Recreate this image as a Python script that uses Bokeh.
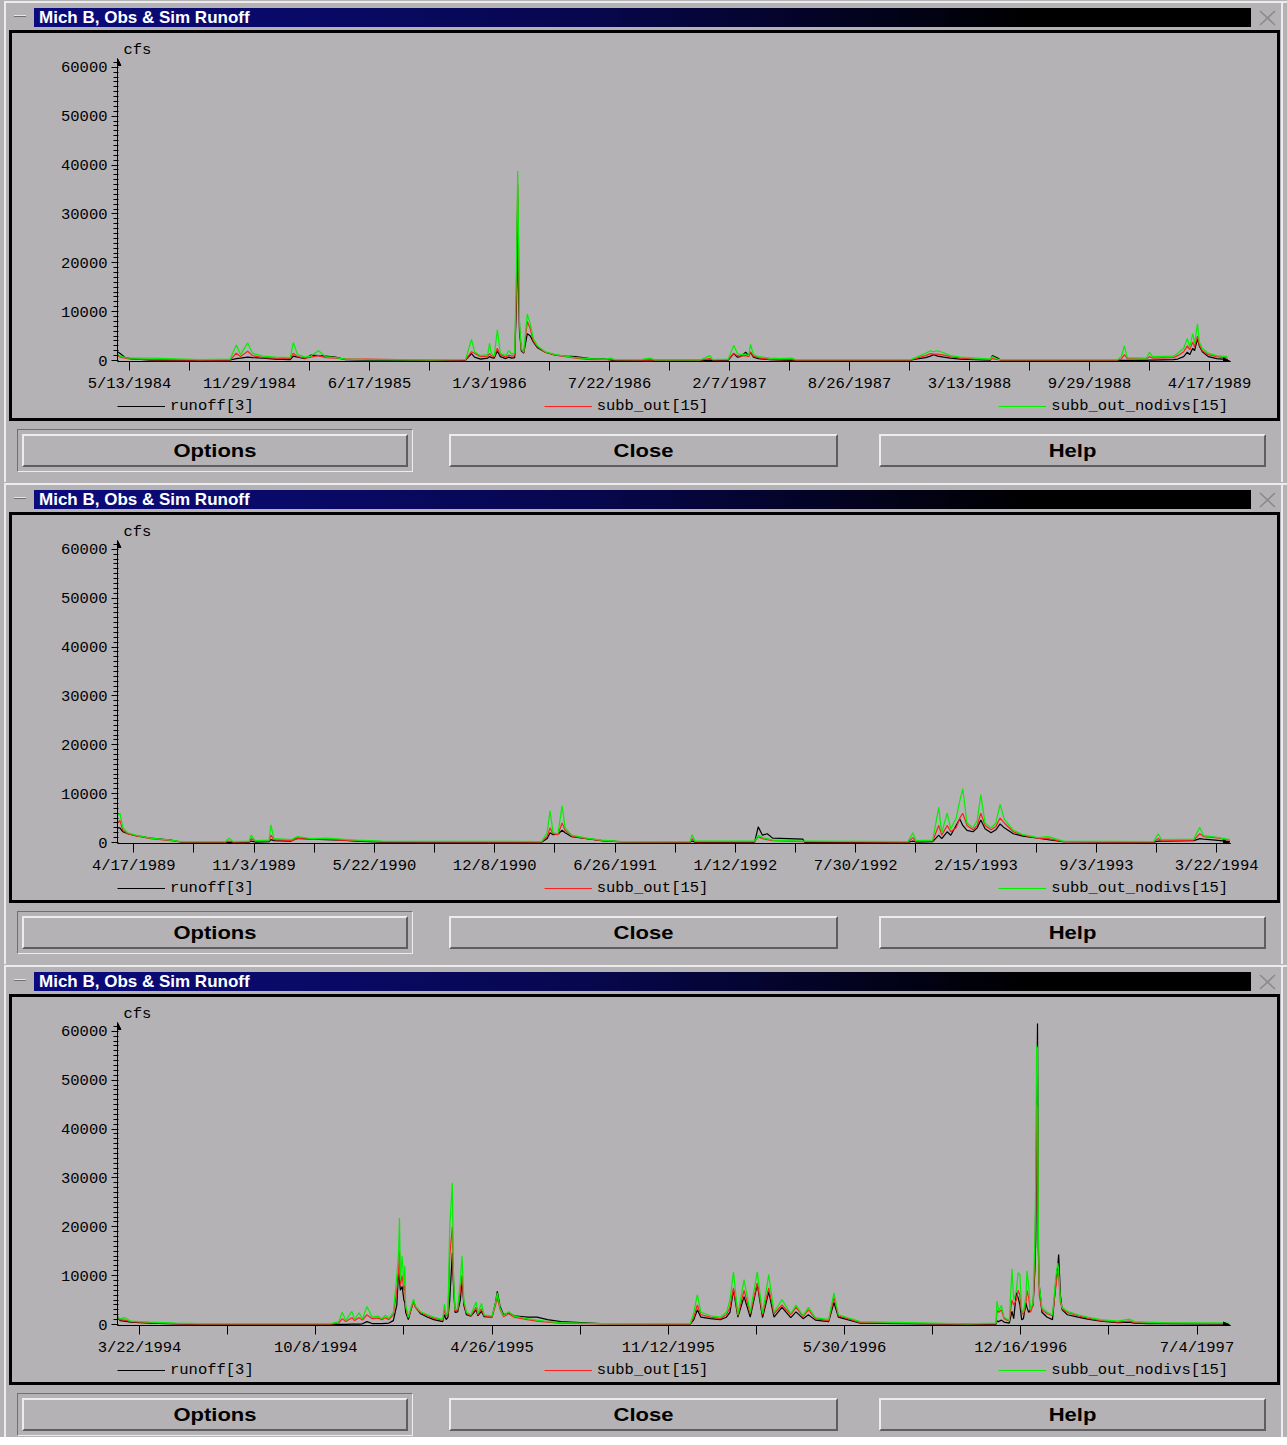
import html
import pandas as pd
from bokeh.plotting import figure
from bokeh.models import (Range1d, FixedTicker, CustomJSTickFormatter, SingleIntervalTicker,
                          NumeralTickFormatter, Legend, LegendItem, Arrow, NormalHead, Div)
from bokeh.layouts import column, row
from bokeh.embed import file_html
from bokeh.resources import INLINE

# ---------------------------------------------------------------- texts
WINDOW_TITLE = "Mich B, Obs & Sim Runoff"
Y_UNITS = "cfs"
SERIES_NAMES = ["runoff[3]", "subb_out[15]", "subb_out_nodivs[15]"]
BUTTONS = ["Options", "Close", "Help"]

# ---------------------------------------------------------------- window 1
W1_TICK_LABELS = ["5/13/1984", "11/29/1984", "6/17/1985", "1/3/1986", "7/22/1986",
                  "2/7/1987", "8/26/1987", "3/13/1988", "9/29/1988", "4/17/1989"]
W1_XRANGE = ("1984-04-23", "1989-05-22")
W1_ANCHOR = "1984-05-13"          # day 0 of W1_DAY
W1_DAY = [-20, -15, -7, 2, 35, 118, 168, 178, 185, 197,
          205, 222, 243, 268, 273, 280, 293, 302, 315, 327,
          343, 360, 393, 502, 560, 570, 575, 585, 597, 600,
          603, 608, 613, 618, 627, 632, 637, 642, 645, 647,
          648, 650, 653, 657, 663, 668, 673, 680, 693, 710,
          727, 743, 768, 793, 802, 808, 852, 868, 875, 952,
          967, 972, 998, 1007, 1013, 1018, 1027, 1032, 1035, 1040,
          1048, 1068, 1085, 1103, 1110, 1302, 1310, 1327, 1335, 1340,
          1347, 1357, 1368, 1385, 1410, 1435, 1438, 1447, 1452, 1647,
          1653, 1658, 1663, 1695, 1700, 1705, 1740, 1747, 1757, 1763,
          1767, 1772, 1775, 1780, 1783, 1788, 1798, 1812, 1830]
W1_NODIV = [1200, 900, 600, 500, 500, 200, 300, 3200, 1200, 3600,
            1500, 900, 700, 600, 3700, 1200, 700, 900, 2000, 800,
            600, 300, 200, 150, 250, 4300, 1800, 1000, 1200, 3500,
            1500, 900, 6300, 1500, 1000, 2000, 1300, 1500, 20000, 38800,
            30000, 8000, 2500, 1800, 9500, 7500, 4500, 3000, 1800, 1200,
            900, 600, 400, 300, 500, 200, 200, 500, 150, 150,
            1000, 200, 300, 3100, 1500, 1200, 1300, 1000, 3300, 1200,
            800, 500, 400, 500, 200, 200, 600, 1500, 2000, 1800,
            2000, 1600, 1000, 700, 500, 300, 800, 300, 200, 200,
            800, 3000, 600, 500, 1700, 800, 900, 1500, 2500, 4500,
            2800, 5500, 3500, 7500, 3800, 2500, 1500, 1000, 800]
W1_SUB = [1000, 700, 500, 300, 200, 100, 150, 1500, 800, 1900,
          1000, 600, 500, 400, 1500, 800, 500, 700, 1000, 600,
          500, 300, 300, 100, 150, 1800, 1500, 800, 900, 1400,
          1000, 800, 2500, 1200, 700, 1100, 900, 1000, 15000, 36000,
          28000, 7000, 2200, 1600, 8000, 6500, 4000, 2800, 1700, 1100,
          800, 500, 200, 200, 200, 150, 100, 150, 100, 100,
          400, 150, 200, 1500, 1000, 900, 1000, 800, 1800, 900,
          600, 200, 200, 200, 100, 100, 400, 1000, 1400, 1300,
          1300, 1100, 800, 500, 300, 200, 400, 200, 100, 100,
          300, 1200, 400, 300, 800, 500, 600, 1000, 1800, 3000,
          2200, 3800, 2800, 5000, 3200, 2000, 1200, 800, 500]
W1_OBS = [1800, 1400, 600, 400, 100, 50, 100, 400, 500, 700,
          600, 500, 300, 200, 900, 700, 400, 1100, 1000, 900,
          700, 200, 100, 50, 100, 1400, 700, 300, 500, 800,
          600, 500, 2000, 800, 400, 700, 500, 600, 12000, 33000,
          16000, 6000, 2000, 1500, 5500, 5000, 3800, 2600, 1700, 1100,
          900, 800, 400, 300, 100, 50, 50, 50, 50, 50,
          100, 50, 100, 1400, 700, 800, 1700, 900, 1700, 700,
          400, 200, 100, 50, 50, 50, 300, 600, 900, 1200,
          900, 700, 500, 300, 200, 100, 1000, 500, 50, 50,
          50, 50, 50, 50, 100, 100, 200, 300, 800, 1700,
          1200, 2500, 2000, 4500, 3000, 1800, 800, 400, 200]

# ---------------------------------------------------------------- window 2
W2_TICK_LABELS = ["4/17/1989", "11/3/1989", "5/22/1990", "12/8/1990", "6/26/1991",
                  "1/12/1992", "7/30/1992", "2/15/1993", "9/3/1993", "3/22/1994"]
W2_XRANGE = ("1989-03-21", "1994-04-14")
W2_ANCHOR = "1989-04-17"
W2_DAY = [-27, -23, -18, -10, 3, 28, 62, 78, 153, 158,
          165, 192, 195, 202, 225, 228, 233, 262, 272, 295,
          320, 345, 370, 412, 678, 687, 692, 697, 705, 712,
          717, 728, 753, 778, 812, 925, 928, 933, 1032, 1038,
          1045, 1053, 1062, 1112, 1115, 1287, 1295, 1300, 1328, 1338,
          1343, 1352, 1358, 1367, 1373, 1378, 1385, 1395, 1402, 1408,
          1415, 1425, 1433, 1440, 1447, 1462, 1478, 1503, 1520, 1545,
          1695, 1703, 1708, 1762, 1772, 1778, 1798, 1822]
W2_NODIV = [5500, 6000, 3000, 2000, 1500, 900, 500, 200, 200, 900,
            200, 300, 1500, 400, 500, 3600, 800, 600, 1200, 800,
            900, 700, 500, 300, 200, 2000, 6500, 2000, 1800, 7500,
            3000, 1500, 900, 500, 200, 200, 1600, 300, 300, 1500,
            1000, 800, 500, 300, 300, 200, 2000, 400, 500, 7200,
            2000, 6000, 2800, 5000, 8500, 11000, 4000, 3000, 4500, 9800,
            4000, 3000, 4000, 7800, 4800, 2500, 1600, 1000, 1200, 300,
            200, 1800, 600, 700, 3100, 1400, 1100, 600]
W2_SUB = [4000, 4500, 2500, 1800, 1400, 800, 400, 150, 100, 300,
          100, 200, 800, 300, 300, 1500, 600, 400, 800, 700,
          700, 500, 400, 200, 100, 1200, 3000, 1800, 1600, 4000,
          2500, 1300, 800, 400, 150, 100, 800, 150, 200, 1200,
          800, 600, 400, 200, 200, 100, 1000, 200, 300, 3500,
          1500, 3500, 2200, 3000, 5000, 6000, 3500, 2600, 3500, 6000,
          3500, 2600, 3300, 5000, 4000, 2200, 1500, 900, 800, 200,
          100, 800, 400, 500, 1800, 1200, 1000, 500]
W2_OBS = [3000, 3000, 2200, 1800, 1400, 900, 500, 100, 50, 50,
          50, 100, 300, 100, 200, 600, 400, 300, 900, 700,
          600, 500, 300, 100, 50, 800, 2000, 1600, 1700, 2500,
          2000, 1200, 800, 400, 150, 50, 300, 50, 100, 3200,
          1500, 1800, 900, 700, 50, 50, 300, 100, 200, 1500,
          800, 2200, 1500, 3500, 4800, 3500, 2500, 2200, 3000, 4600,
          2800, 2000, 2600, 3800, 3000, 1800, 1300, 900, 600, 200,
          50, 300, 300, 400, 800, 700, 500, 200]

# ---------------------------------------------------------------- window 3
W3_TICK_LABELS = ["3/22/1994", "10/8/1994", "4/26/1995", "11/12/1995",
                  "5/30/1996", "12/16/1996", "7/4/1997"]
W3_XRANGE = ("1994-02-25", "1997-08-11")
W3_ANCHOR = "1994-03-22"
W3_DAY = [-25, -22, -17, -10, 12, 41, 69, 217, 226, 230,
          234, 241, 244, 249, 253, 258, 264, 271, 275, 279,
          283, 288, 292, 294, 295, 296, 298, 300, 301, 302,
          305, 308, 311, 313, 319, 327, 334, 344, 346, 348,
          350, 352, 355, 356, 358, 361, 364, 366, 368, 371,
          376, 382, 384, 388, 391, 400, 404, 406, 409, 413,
          419, 425, 440, 451, 463, 478, 523, 625, 629, 633,
          637, 648, 659, 666, 670, 674, 679, 686, 693, 701,
          707, 714, 720, 729, 739, 745, 753, 759, 767, 782,
          788, 793, 818, 940, 972, 973, 975, 978, 981, 987,
          990, 992, 995, 997, 999, 1001, 1003, 1006, 1007, 1009,
          1011, 1014, 1016, 1017, 1018, 1019, 1020, 1021, 1024, 1030,
          1036, 1038, 1040, 1042, 1043, 1045, 1047, 1053, 1065, 1076,
          1091, 1110, 1123, 1129, 1144, 1159, 1236]
W3_NODIV = [1500, 1200, 1400, 700, 500, 300, 200, 200, 600, 2500,
            800, 2700, 1000, 2400, 1100, 3700, 1500, 1700, 1200, 1900,
            1300, 2500, 10000, 15000, 21800, 9000, 14000, 8000, 12000, 4000,
            1500, 3500, 5200, 3800, 2600, 2000, 1500, 1000, 4200, 2000,
            2500, 20000, 29000, 12000, 3000, 3200, 9000, 14000, 5000, 2500,
            2000, 4600, 2300, 4300, 2000, 1700, 4500, 6500, 3500, 1800,
            2600, 1700, 1200, 900, 600, 400, 200, 200, 2500, 6100,
            2500, 1800, 1500, 2500, 5000, 10800, 2000, 9200, 2500, 10800,
            2200, 10200, 2500, 5100, 2200, 4000, 1800, 3500, 1400, 1000,
            6500, 2000, 600, 150, 300, 4800, 2800, 3900, 1500, 800,
            11400, 5000, 7000, 10600, 10200, 3000, 2500, 6000, 11000, 8000,
            3000, 4500, 17300, 30000, 57000, 56500, 20000, 8000, 3500, 2500,
            2000, 6000, 10000, 12600, 11000, 5000, 3500, 2700, 2000, 1500,
            1000, 700, 1100, 600, 500, 400, 300]
W3_SUB = [1200, 1000, 900, 600, 400, 200, 100, 100, 300, 1200,
          600, 1400, 800, 1400, 900, 2000, 1200, 1300, 1000, 1400,
          1000, 2000, 7000, 11000, 15000, 8000, 10000, 7000, 8000, 3500,
          1300, 3000, 4800, 3500, 2400, 1800, 1300, 900, 3000, 1800,
          2000, 14000, 20000, 10000, 2800, 3000, 7000, 10000, 4500, 2300,
          1800, 3500, 2000, 3200, 1800, 1500, 4000, 5500, 3200, 1600,
          2200, 1500, 1000, 700, 500, 300, 150, 100, 1500, 4000,
          2000, 1500, 1200, 2000, 3500, 7500, 1800, 7000, 2200, 8500,
          2000, 7500, 2200, 4000, 2000, 3500, 1600, 3000, 1200, 800,
          5500, 1800, 400, 100, 200, 2900, 2500, 3000, 1200, 700,
          5000, 4000, 5000, 7000, 6000, 2500, 2000, 4500, 7000, 5500,
          2500, 4000, 13000, 25000, 45000, 44000, 16000, 6000, 3000, 2200,
          1800, 5000, 8000, 11000, 10000, 4500, 3200, 2500, 1800, 1300,
          800, 500, 700, 400, 300, 300, 200]
W3_OBS = [1600, 800, 700, 500, 300, 150, 50, 50, 50, 50,
          50, 100, 100, 100, 150, 600, 200, 200, 200, 250,
          300, 800, 4000, 11200, 9000, 7000, 7800, 5000, 4500, 2500,
          1000, 3000, 4700, 3600, 2200, 1500, 1000, 600, 2000, 1000,
          1500, 5000, 14700, 9000, 2500, 2600, 5000, 9200, 4000, 2000,
          1700, 3000, 1800, 2700, 1600, 1500, 4500, 6800, 3800, 2000,
          2400, 1800, 1500, 1500, 1000, 600, 200, 100, 1000, 3000,
          1500, 1200, 1000, 1500, 2500, 7100, 1500, 5700, 1500, 8200,
          1400, 6700, 1500, 3500, 1400, 2600, 1200, 2000, 900, 600,
          4500, 1500, 300, 50, 100, 700, 600, 900, 500, 300,
          2700, 1200, 6500, 5500, 4000, 1000, 1200, 4400, 3500, 2500,
          3000, 4000, 11000, 17500, 41000, 61600, 15000, 8000, 2500, 1500,
          1000, 5000, 9000, 12000, 14300, 6000, 3000, 2000, 1500, 1100,
          700, 400, 500, 300, 200, 200, 100]

Y_RANGE = (-200, 61800)

# ---------------------------------------------------------------- style
BG = "#b4b2b4"
LIGHT = "#ececec"
DARK = "#5e5e5e"
MONO = "Liberation Mono"
FS = "15.5px"
SANS = "'Liberation Sans', Arial, sans-serif"
COLORS = ["#000000", "#ff2020", "#00f000"]


def ms(t):
    return pd.Timestamp(t).value / 1e6


def make_plot(xr, tick_labels, anchor, day, obs, sub, nodiv):
    for arr in (obs, sub, nodiv):
        if len(arr) != len(day):
            raise ValueError("length mismatch")
    x = pd.Timestamp(anchor) + pd.to_timedelta(day, unit="D")
    p = figure(width=1265, height=364, x_axis_type="datetime",
               x_range=Range1d(ms(xr[0]), ms(xr[1])), y_range=Range1d(*Y_RANGE),
               output_backend="svg", toolbar_location=None,
               min_border_left=105, min_border_right=47, min_border_top=25, min_border_bottom=36,
               background_fill_color=BG, border_fill_color=BG,
               outline_line_color=BG, outline_line_width=2)
    p.grid.visible = False

    r_obs = p.line(x, obs, line_color=COLORS[0], line_width=1.2)
    r_sub = p.line(x, sub, line_color=COLORS[1], line_width=1.2)
    r_nod = p.line(x, nodiv, line_color=COLORS[2], line_width=1.2)

    ticks = [pd.to_datetime(s, format="%m/%d/%Y") for s in tick_labels]
    minor = [a + (b - a) / 2 for a, b in zip(ticks[:-1], ticks[1:])]
    xa = p.xaxis[0]
    xa.ticker = FixedTicker(ticks=[ms(t) for t in ticks], minor_ticks=[ms(t) for t in minor])
    xa.formatter = CustomJSTickFormatter(code="""
        const d = new Date(tick);
        return (d.getUTCMonth() + 1) + "/" + d.getUTCDate() + "/" + d.getUTCFullYear();
    """)
    ya = p.yaxis[0]
    ya.ticker = SingleIntervalTicker(interval=10000, num_minor_ticks=10)
    ya.formatter = NumeralTickFormatter(format="0")
    for ax in (xa, ya):
        ax.axis_line_color = "black"
        ax.major_tick_line_color = "black"
        ax.minor_tick_line_color = "black"
        ax.major_label_text_font = MONO
        ax.major_label_text_font_size = FS
        ax.major_label_text_color = "black"
    xa.major_tick_out = 9
    xa.major_tick_in = 0
    xa.minor_tick_out = 9
    xa.minor_tick_in = 0
    xa.major_label_standoff = 4
    ya.major_tick_out = 6
    ya.major_tick_in = 0
    ya.minor_tick_out = 4
    ya.minor_tick_in = 1
    ya.major_label_standoff = 4

    p.title.text = Y_UNITS
    p.title.align = "left"
    p.title.offset = 6
    p.title.text_font = MONO
    p.title.text_font_size = FS
    p.title.text_font_style = "normal"
    p.title.text_color = "black"
    p.title.standoff = 0

    x0, x1 = ms(xr[0]), ms(xr[1])
    span = x1 - x0
    p.add_layout(Arrow(end=NormalHead(size=7, line_color="black", fill_color="black"),
                       x_start=x1 - span * 0.01, x_end=x1, y_start=Y_RANGE[0], y_end=Y_RANGE[0],
                       line_color="black"))
    p.add_layout(Arrow(end=NormalHead(size=7, line_color="black", fill_color="black"),
                       x_start=x0, x_end=x0, y_start=Y_RANGE[1] - 1500, y_end=Y_RANGE[1],
                       line_color="black"))
    return p


def legend_strip():
    # strip under the plot carrying the series key; its key lines lie outside its own range
    lf = figure(width=1265, height=21, output_backend="svg", toolbar_location=None,
                x_range=Range1d(0, 1), y_range=Range1d(0, 1), min_border=0,
                x_axis_location=None, y_axis_location=None,
                outline_line_color=BG, outline_line_width=2,
                background_fill_color=BG, border_fill_color=BG)
    lf.grid.visible = False
    rends = [lf.line(x=[0, 1], y=[5, 5], line_color=c, line_width=1.2) for c in COLORS]
    leg = Legend(items=[LegendItem(label=n, renderers=[r]) for n, r in zip(SERIES_NAMES, rends)],
                 orientation="horizontal", nrows=1, location=(0, 3), spacing=290,
                 glyph_width=48, glyph_height=16, label_height=16, label_standoff=5,
                 padding=0, margin=0, border_line_alpha=0, background_fill_alpha=0,
                 label_text_font=MONO, label_text_font_size=FS, label_text_color="black")
    lf.add_layout(leg, "center")
    return lf


def box(w, h, inner=""):
    return Div(text=f'<div style="position:relative;width:{w}px;height:{h}px;'
                    f'background:{BG};overflow:hidden">{inner}</div>',
               width=w, height=h, margin=0, styles={"background-color": BG})


def title_row():
    h = 30
    inner = (
        f'<div style="position:absolute;left:4px;top:1px;width:1283px;height:2px;background:{LIGHT}"></div>'
        f'<div style="position:absolute;left:4px;top:1px;width:2px;height:{h}px;background:{LIGHT}"></div>'
        f'<div style="position:absolute;left:1281px;top:1px;width:2px;height:{h}px;background:{LIGHT}"></div>'
        f'<div style="position:absolute;left:14px;top:15px;width:12px;height:2px;background:#e6e6e6;'
        f'border-bottom:1px solid #707070"></div>'
        f'<div style="position:absolute;left:34px;top:8px;width:1217px;height:19px;'
        f'background:linear-gradient(to right,#0b0b7e 0%,#07074f 45%,#000 82%)"></div>'
        f'<div style="position:absolute;left:39px;top:8px;height:19px;line-height:19px;color:#fff;'
        f'font-family:{SANS};font-weight:bold;font-size:17px;white-space:nowrap">'
        f'{html.escape(WINDOW_TITLE)}</div>'
        f'<svg style="position:absolute;left:1259px;top:10px" width="17" height="16">'
        f'<path d="M1 1 L16 15 M16 1 L1 15" stroke="#8a8a8a" stroke-width="1.6" fill="none"/></svg>'
    )
    return box(1287, h, inner)


def button_row(h):
    specs = [(22, 386), (449, 389), (879, 387)]
    inner = (
        f'<div style="position:absolute;left:4px;top:0;width:2px;height:{h}px;background:{LIGHT}"></div>'
        f'<div style="position:absolute;left:1281px;top:0;width:2px;height:{h}px;background:{LIGHT}"></div>'
        f'<div style="position:absolute;left:17px;top:8px;width:396px;height:43px;box-sizing:border-box;'
        f'border:1px solid;border-color:#707070 {LIGHT} {LIGHT} #707070"></div>'
    )
    for (x, w), label in zip(specs, BUTTONS):
        inner += (
            f'<div style="position:absolute;left:{x}px;top:13px;width:{w}px;height:33px;box-sizing:border-box;'
            f'border:2px solid;border-color:{LIGHT} {DARK} {DARK} {LIGHT};font-family:{SANS};font-weight:bold;'
            f'font-size:22px;line-height:29px;text-align:center;color:#000">'
            f'<span style="display:inline-block;transform:scale(1,0.86)">{html.escape(label)}</span></div>'
        )
    return box(1287, h, inner)


def black(w, h):
    return Div(text="", width=w, height=h, margin=0,
               styles={"background-color": "#000", "overflow": "hidden"})


def window(p, btn_h):
    lpad = box(9, 391, f'<div style="position:absolute;left:4px;top:0;width:2px;height:391px;background:{LIGHT}"></div>')
    rpad = box(7, 391, f'<div style="position:absolute;left:1px;top:0;width:2px;height:391px;background:{LIGHT}"></div>')
    inner = column(black(1265, 3), p, legend_strip(), black(1265, 3), spacing=0,
                   styles={"background-color": BG})
    panel = row(black(3, 391), inner, black(3, 391), spacing=0)
    return column(title_row(), row(lpad, panel, rpad, spacing=0), button_row(btn_h), spacing=0)


p1 = make_plot(W1_XRANGE, W1_TICK_LABELS, W1_ANCHOR, W1_DAY, W1_OBS, W1_SUB, W1_NODIV)
p2 = make_plot(W2_XRANGE, W2_TICK_LABELS, W2_ANCHOR, W2_DAY, W2_OBS, W2_SUB, W2_NODIV)
p3 = make_plot(W3_XRANGE, W3_TICK_LABELS, W3_ANCHOR, W3_DAY, W3_OBS, W3_SUB, W3_NODIV)

layout = column(window(p1, 61), window(p2, 61), window(p3, 52), spacing=0)

open("out.html", "w").write(file_html(layout, INLINE, title="Mich B, Obs & Sim Runoff"))
